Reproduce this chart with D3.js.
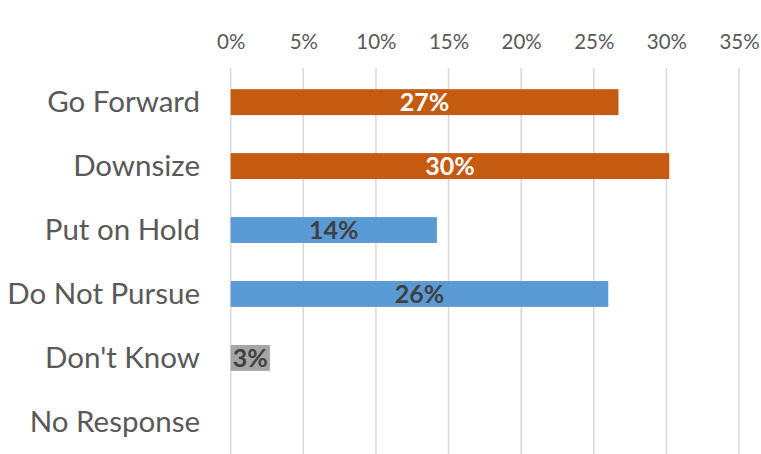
<!DOCTYPE html>
<html>
<head>
<meta charset="utf-8">
<script src="https://cdn.jsdelivr.net/npm/d3@7"></script>
<style>
  body { margin: 0; background: #fff; }
  svg { display: block; font-family: Lato, "Open Sans", sans-serif; }
</style>
</head>
<body>
<svg id="chart" width="761" height="454"></svg>
<script>
// Chart data
var categories = ['Go Forward', 'Downsize', 'Put on Hold', 'Do Not Pursue', "Don't Know", 'No Response'];
var shares = [0.267, 0.302, 0.142, 0.26, 0.027, 0];
var labels = ['27%', '30%', '14%', '26%', '3%', ''];
var groups = ['go', 'go', 'no', 'no', 'unk', 'unk'];
var ticks = [0, 0.05, 0.1, 0.15, 0.2, 0.25, 0.3, 0.35];

var fills = { go: '#C55A11', no: '#5B9BD5', unk: '#A5A5A5' };
var textFills = { go: '#FFFFFF', no: '#404040', unk: '#404040' };

function renderChart() {
  'use strict';
  var svg = d3.select('#chart');
  var x = d3.scaleLinear().domain([0, 0.35]).range([230.7, 739]);
  var y = d3.scaleBand().domain(categories).range([70, 454]).paddingInner(0.595).paddingOuter(0.3);

  // Vertical gridlines
  svg.append('g').selectAll('line')
    .data(ticks)
    .enter()
    .append('line')
      .attr('x1', function(d) { return x(d); })
      .attr('x2', function(d) { return x(d); })
      .attr('y1', 68)
      .attr('y2', 454)
      .attr('stroke', '#D9D9D9')
      .attr('stroke-width', 1.5);

  // Top axis labels
  var axis = svg.append('g')
    .attr('transform', 'translate(0, 49)')
    .call(d3.axisTop(x).tickValues(ticks).tickFormat(d3.format('.0%')).tickSize(0).tickPadding(0));
  axis.select('.domain').remove();
  axis.selectAll('text')
    .attr('font-size', 20.5)
    .attr('fill', '#595959')
    .attr('font-family', 'Lato, sans-serif');

  // Category labels
  svg.append('g').selectAll('text')
    .data(categories)
    .enter()
    .append('text')
      .attr('x', 200)
      .attr('y', function(d) { return y(d) + y.bandwidth() / 2; })
      .attr('dy', '0.35em')
      .attr('text-anchor', 'end')
      .attr('font-size', 29.5)
      .attr('fill', '#595959')
      .text(function(d) { return d; });

  // Bars
  svg.append('g').selectAll('rect')
    .data(shares)
    .enter()
    .append('rect')
      .attr('x', x(0))
      .attr('y', function(d, i) { return y(categories[i]); })
      .attr('width', function(d) { return x(d) - x(0); })
      .attr('height', y.bandwidth())
      .attr('fill', function(d, i) { return fills[groups[i]]; });

  // Value labels
  svg.append('g').selectAll('text')
    .data(shares)
    .enter()
    .append('text')
      .attr('x', function(d) { return (x(0) + x(d)) / 2; })
      .attr('y', function(d, i) { return y(categories[i]) + y.bandwidth() / 2; })
      .attr('dy', '0.36em')
      .attr('text-anchor', 'middle')
      .attr('font-size', 25)
      .attr('font-weight', 'bold')
      .attr('fill', function(d, i) { return textFills[groups[i]]; })
      .text(function(d, i) { return labels[i]; });
}

renderChart();
</script>
</body>
</html>
